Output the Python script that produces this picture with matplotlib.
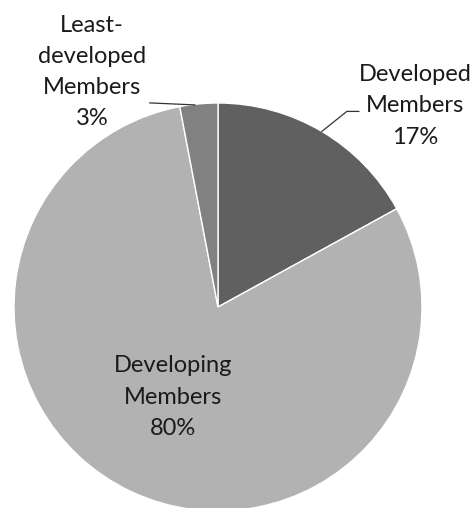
import numpy as np
import matplotlib.pyplot as plt

# Member groups and their shares (%)
groups = ['Developed\nMembers', 'Developing\nMembers', 'Least-\ndeveloped\nMembers']
shares = [17, 80, 3]
colors = ['#606060', '#b2b2b2', '#818181']

W, H = 473, 508
fig = plt.figure(figsize=(W / 100, H / 100), dpi=100)
ax = fig.add_axes([0, 0, 1, 1])

cx, cy, r = 218, H - 307, 204
wedges, _ = ax.pie(shares, colors=colors, startangle=90, counterclock=False,
                   center=(cx, cy), radius=r, frame=True,
                   wedgeprops=dict(edgecolor='white', linewidth=1))
ax.set_xlim(0, W)
ax.set_ylim(0, H)
ax.set_aspect('equal')
ax.axis('off')


def edge_point(w, frac=1.0):
    ang = np.deg2rad((w.theta1 + w.theta2) / 2)
    return cx + frac * r * np.cos(ang), cy + frac * r * np.sin(ang)


font = dict(family=['Lato', 'DejaVu Sans'], fontsize=17, color='#1a1a1a',
            ha='center', va='center', linespacing=1.6)

# Developed (outside, upper right)
ax.text(415, H - 106, f'{groups[0]}\n{shares[0]}%', **font)
px, py = edge_point(wedges[0])
ax.plot([px, px + 25, px + 37], [py, py + 20, py + 20], color='#333333', lw=0.9)

# Developing (inside the big slice)
ax.text(173, H - 397, f'{groups[1]}\n{shares[1]}%', **font)

# Least-developed (outside, upper left)
ax.text(92, H - 72, f'{groups[2]}\n{shares[2]}%', **font)
px, py = edge_point(wedges[2])
ax.plot([px - 4, px - 49], [py - 1, py + 1], color='#333333', lw=0.9)

fig.savefig('out.png', dpi=100, facecolor='white')
